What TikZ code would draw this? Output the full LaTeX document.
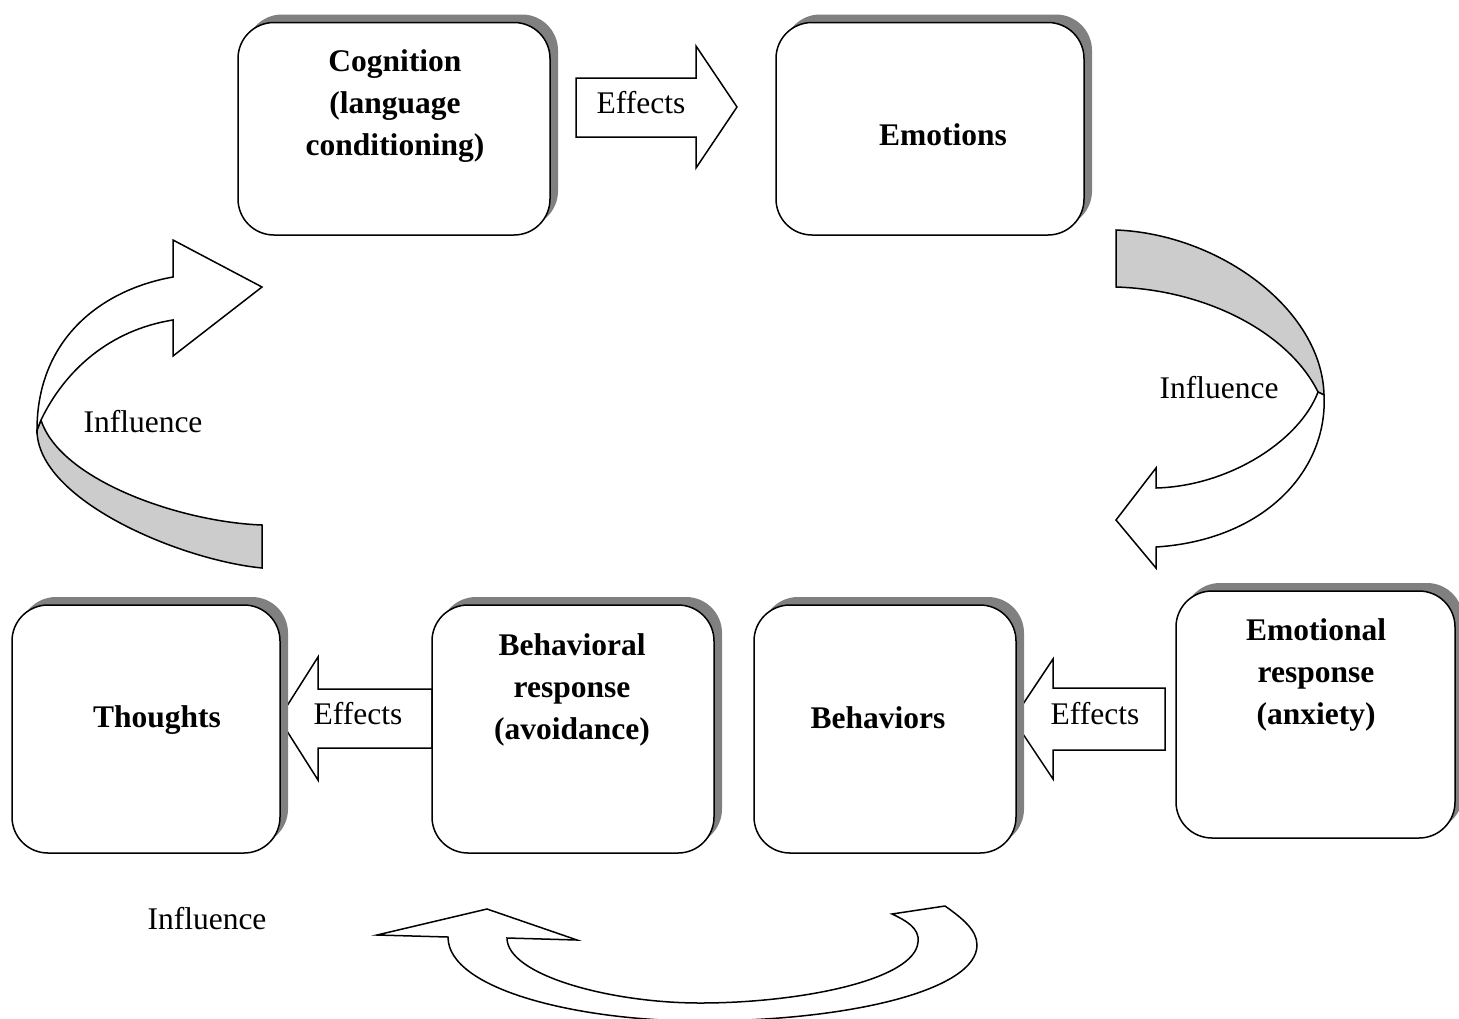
\documentclass[tikz,border=0pt]{standalone}
\usepackage{fontspec}
\setmainfont{Liberation Serif}
\usetikzlibrary{shadows}
\definecolor{shadowgray}{HTML}{808080}
\definecolor{bandgray}{HTML}{CCCCCC}
\begin{document}
\begin{tikzpicture}[x=1pt,y=-1pt,line join=miter,
  box/.style={draw=black, fill=white, rounded corners=36pt, line width=1.5pt,
    inner sep=0pt,
    general shadow={fill=shadowgray, draw=none, shadow xshift=8pt, shadow yshift=8pt}},
  boxtext/.style={font=\fontsize{31.5}{42}\selectfont\bfseries, align=center, inner sep=0pt},
  lbl/.style={font=\fontsize{31.5}{38}\selectfont, inner sep=0pt},
  blockarrow/.style={draw=black, fill=white, line width=1.5pt},
  band/.style={draw=black, fill=bandgray, line width=1.5pt}]
\useasboundingbox (0,0) rectangle (1459,1018);
\clip (0,0) rectangle (1459,1018);

% straight block arrows (drawn first, boxes overlap their ends)
\draw[blockarrow] (576,78) -- (696,78) -- (696,46) -- (737,107) -- (696,168) -- (696,137) -- (576,137) -- cycle;
\draw[blockarrow] (432,689) -- (318,689) -- (318,657) -- (279,718.5) -- (318,780) -- (318,748) -- (432,748) -- cycle;
\draw[blockarrow] (1165,688) -- (1053,688) -- (1053,659) -- (1013,719) -- (1053,779) -- (1053,750) -- (1165,750) -- cycle;
\node[lbl] (eff1) at (641,103) {Effects};
\node[lbl] (eff2) at (358,714) {Effects};
\node[lbl] (eff3) at (1095,714) {Effects};

% boxes
\node[box, minimum width=312pt, minimum height=212.5pt] (cog) at (394,128.75) {};
\node[box, minimum width=308pt, minimum height=212.5pt] (emo) at (930,128.75) {};
\node[box, minimum width=268pt, minimum height=248pt] (tho) at (146,729) {};
\node[box, minimum width=282pt, minimum height=248pt] (bresp) at (573,729) {};
\node[box, minimum width=262pt, minimum height=248pt] (behav) at (885,729) {};
\node[box, minimum width=279pt, minimum height=247pt] (eresp) at (1315.5,714.5) {};

\node[boxtext] (cogt) at (395,106) {Cognition\\(language\\conditioning)};
\node[boxtext] (emot) at (943,135) {Emotions};
\node[boxtext] (thot) at (157,720) {Thoughts};
\node[boxtext] (brespt) at (572,690) {Behavioral\\response\\(avoidance)};
\node[boxtext] (behavt) at (878,718) {Behaviors};
\node[boxtext] (erespt) at (1316,675) {Emotional\\response\\(anxiety)};

% right curved arrow
\draw[band] (1116,230) .. controls (1220,234) and (1322,310) .. (1324,395)
  -- (1318,392) .. controls (1290,335) and (1210,290) .. (1116,287) -- cycle;
\draw[blockarrow] (1318,392) -- (1324,395) .. controls (1328,470) and (1265,540) .. (1156,547)
  -- (1156,568) -- (1116,520) -- (1156,468) -- (1156,488)
  .. controls (1230,486) and (1300,440) .. (1318,392) -- cycle;
\node[lbl] (inf1) at (1219,388) {Influence};

% left curved arrow
\draw[band] (262,568) .. controls (180,560) and (37,500) .. (37,430)
  -- (41,420) .. controls (60,480) and (180,522) .. (262,525) -- cycle;
\draw[blockarrow] (37,430) .. controls (37,340) and (100,290) .. (173,277)
  -- (173,240) -- (262,287) -- (173,356) -- (173,320)
  .. controls (110,330) and (65,370) .. (41,420) -- cycle;
\node[lbl] (inf2) at (143,422) {Influence};

% bottom curved arrow
\draw[blockarrow] (377,935) -- (487,909) -- (577,940) -- (507,938)
  .. controls (507,975) and (610,1003) .. (700,1003)
  .. controls (800,1003) and (915,980) .. (918,942)
  .. controls (920,928) and (905,920) .. (892,914)
  -- (945,906) .. controls (962,918) and (977,930) .. (977,945)
  .. controls (977,990) and (850,1021) .. (700,1021)
  .. controls (580,1021) and (448,990) .. (448,937) -- cycle;
\node[lbl] (inf3) at (207,919) {Influence};
\end{tikzpicture}
\end{document}
